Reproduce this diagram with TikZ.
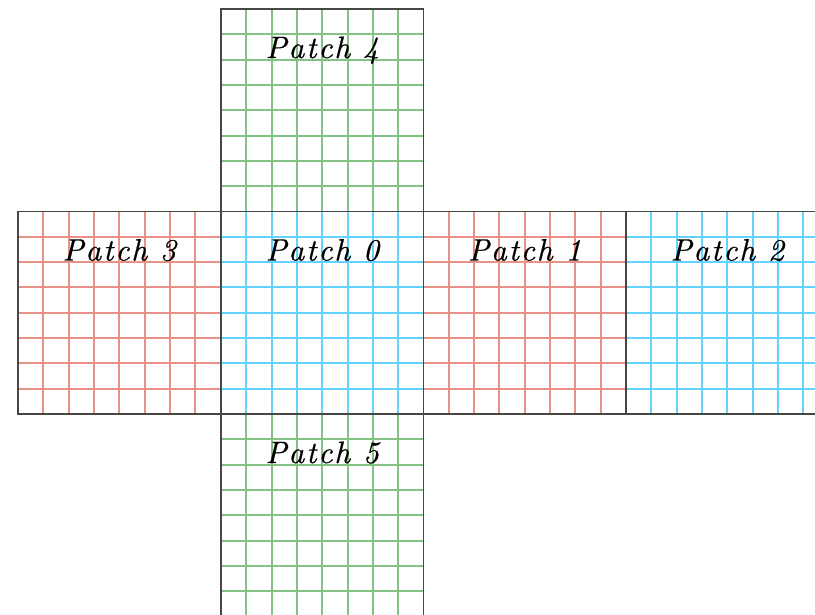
\documentclass[tikz,border=0pt]{standalone}
\usepackage{fontspec}
\newfontfamily\labfont{lmroman10-italic.otf}[LetterSpace=6,FakeBold=0.6]
\definecolor{gridgreen}{RGB}{130,195,130}
\definecolor{gridred}{RGB}{232,145,135}
\definecolor{gridcyan}{RGB}{100,210,255}
\definecolor{border}{RGB}{70,70,70}
\tikzset{
  gridline/.style={line width=1.45pt},
  patchborder/.style={draw=border, line width=1.1pt},
  patchlabel/.style={font=\labfont\fontsize{22}{26}\selectfont, inner sep=0pt, anchor=base}
}
\newcommand\patchgrid[3]{%
  \begin{scope}[shift={(#1,#2)}]
    \foreach \i in {1,...,7} {
      \draw[gridline, #3] (\i*25.3125,0) -- (\i*25.3125,202.5);
      \draw[gridline, #3] (0,\i*25.3125) -- (202.5,\i*25.3125);
    }
  \end{scope}}
\newcommand\patchframe[4]{%
  \begin{scope}[shift={(#1,#2)}]
    \draw[patchborder] (0,0) rectangle (202.5,202.5);
    \node[patchlabel] (#3) at (101.25,49) {Patch #4};
  \end{scope}}
\begin{document}
\begin{tikzpicture}[x=0.025cm,y=-0.025cm]
\useasboundingbox (0,0) rectangle (815,615);
\clip (0,0) rectangle (815,615);
\patchgrid{221}{9}{gridgreen}
\patchgrid{18}{211.5}{gridred}
\patchgrid{221}{211.5}{gridcyan}
\patchgrid{423.5}{211.5}{gridred}
\patchgrid{626}{211.5}{gridcyan}
\patchgrid{221}{414}{gridgreen}
\patchframe{221}{9}{p4}{4}
\patchframe{18}{211.5}{p3}{3}
\patchframe{221}{211.5}{p0}{0}
\patchframe{423.5}{211.5}{p1}{1}
\patchframe{626}{211.5}{p2}{2}
\patchframe{221}{414}{p5}{5}
\end{tikzpicture}
\end{document}
